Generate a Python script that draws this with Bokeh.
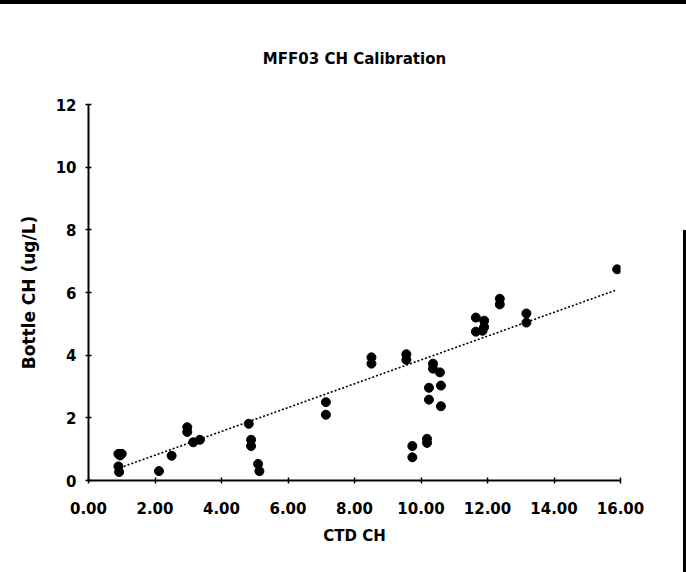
from bokeh.plotting import figure
from bokeh.models import Range1d, NumeralTickFormatter, FixedTicker
from bokeh.embed import file_html
from bokeh.resources import INLINE

# CTD fluorometer reading vs. bottle chlorophyll
ctd_ch = [0.90, 1.00, 0.95, 0.90, 0.92, 2.12, 2.50, 2.97, 2.97, 3.15, 3.35,
          4.82, 4.89, 4.89, 5.10, 5.14, 7.14, 7.14, 8.51, 8.51, 9.56, 9.56,
          9.74, 9.74, 10.18, 10.18, 10.24, 10.24, 10.36, 10.36, 10.57, 10.60,
          10.60, 11.65, 11.90, 11.90, 11.65, 11.85, 12.37, 12.37, 13.17, 13.17,
          15.90]
bottle_ch = [0.85, 0.85, 0.80, 0.45, 0.27, 0.30, 0.79, 1.70, 1.55, 1.22, 1.30,
             1.81, 1.30, 1.10, 0.53, 0.30, 2.50, 2.10, 3.93, 3.73, 4.03, 3.85,
             1.10, 0.74, 1.33, 1.20, 2.96, 2.58, 3.73, 3.57, 3.45, 3.03,
             2.37, 5.20, 5.10, 4.90, 4.75, 4.78, 5.80, 5.62, 5.33, 5.04,
             6.74]

# linear calibration fit, end points
fit_ctd = [1.06, 15.90]
fit_bottle = [0.45, 6.09]

x_ticks = [0, 2, 4, 6, 8, 10, 12, 14, 16]
y_ticks = [0, 2, 4, 6, 8, 10, 12]

FONT = "DejaVu Sans"

p = figure(width=686, height=572, output_backend="svg", toolbar_location=None,
           x_range=Range1d(0, 16), y_range=Range1d(0, 12),
           min_border_left=88, min_border_right=66,
           min_border_top=104, min_border_bottom=92,
           title="MFF03 CH Calibration")

# page edges drawn behind a transparent canvas border
p.border_fill_color = None
p.background_fill_color = "white"
p.styles = {
    "background": ("linear-gradient(black, black) 0px 0px / 686px 4px no-repeat, "
                   "linear-gradient(black, black) 683px 230px / 3px 342px no-repeat, "
                   "white"),
}

p.title.align = "center"
p.title.text_font = FONT
p.title.text_font_style = "bold"
p.title.text_font_size = "15px"
p.title.text_color = "black"
p.title.offset = 0
p.title.standoff = 74

p.grid.visible = False
p.outline_line_color = None

for ax in (p.xaxis[0], p.yaxis[0]):
    ax.axis_line_color = "black"
    ax.axis_line_width = 2
    ax.major_tick_line_color = "black"
    ax.major_tick_line_width = 1.5
    ax.major_tick_in = 3
    ax.major_tick_out = 3
    ax.minor_tick_line_color = None
    ax.major_label_text_font = FONT
    ax.major_label_text_font_style = "bold"
    ax.major_label_text_font_size = "15px"
    ax.major_label_text_color = "black"
    ax.axis_label_text_font = FONT
    ax.axis_label_text_font_style = "bold"
    ax.axis_label_text_color = "black"

p.xaxis.ticker = FixedTicker(ticks=x_ticks)
p.xaxis.formatter = NumeralTickFormatter(format="0.00")
p.xaxis.major_label_standoff = 18
p.xaxis.axis_label = "CTD CH"
p.xaxis.axis_label_text_font_size = "15px"
p.xaxis.axis_label_standoff = 10

p.yaxis.ticker = FixedTicker(ticks=y_ticks)
p.yaxis.major_label_standoff = 9
p.yaxis.axis_label = "Bottle CH (ug/L)"
p.yaxis.axis_label_text_font_size = "17px"
p.yaxis.axis_label_standoff = 14

# calibration line and bottle samples
p.line(fit_ctd, fit_bottle, line_color="black", line_width=1.6, line_dash="2 2")
p.scatter(ctd_ch, bottle_ch, size=9, fill_color="black", line_color="black")

open("out.html", "w").write(file_html(p, INLINE))
